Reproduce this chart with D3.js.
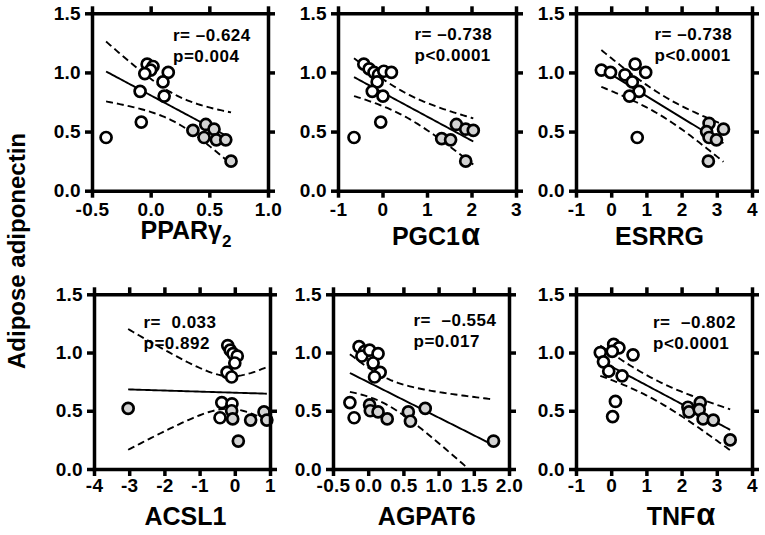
<!DOCTYPE html>
<html><head><meta charset="utf-8">
<script src="https://cdn.jsdelivr.net/npm/d3@7"></script>
<style>
body{margin:0;background:#fff}
svg text{font-family:"Liberation Sans",Arial,Helvetica,sans-serif;font-weight:700;fill:#000}
</style>
</head><body>
<svg id="chart" width="765" height="535"></svg>
<script>
// ---------- data ----------
const yTitle = "Adipose adiponectin";
const geneNames = ["PPARγ", "PGC1", "ESRRG", "ACSL1", "AGPAT6", "TNF"];
const geneSuffix = ["2", "α", "", "", "", "α"];   // subscript 2 / greek alpha
const statR = ["r= \u20130.624", "r= \u20130.738", "r= \u20130.738", "r=  0.033", "r=  \u20130.554", "r=  \u20130.802"];
const statP = ["p=0.004", "p<0.0001", "p<0.0001", "p=0.892", "p=0.017", "p<0.0001"];
const yTicks = [0, 0.5, 1.0, 1.5];
const xDomains = [[-0.5, 1.0], [-1, 3], [-1, 4], [-4, 1], [-0.5, 2.0], [-1, 4]];
const xTicks = [[-0.5, 0.0, 0.5, 1.0], [-1, 0, 1, 2, 3], [-1, 0, 1, 2, 3, 4], [-4, -3, -2, -1, 0, 1], [-0.5, 0.0, 0.5, 1.0, 1.5, 2.0], [-1, 0, 1, 2, 3, 4]];

// open circles / gray circles: [x, adiponectin]
const ppargOpen = [[-0.03,1.07],[0.02,1.05],[0.0,1.02],[-0.05,0.99],[0.15,1.00],[0.105,0.92],[-0.09,0.84],[0.115,0.80],[-0.08,0.58],[-0.38,0.45]];
const ppargGray = [[0.36,0.51],[0.47,0.56],[0.455,0.45],[0.54,0.52],[0.56,0.43],[0.64,0.43],[0.685,0.25]];
const pgcOpen = [[-0.42,1.07],[-0.30,1.03],[-0.19,1.00],[-0.09,0.98],[0.03,1.01],[0.20,1.00],[-0.12,0.92],[-0.23,0.84],[0.01,0.80],[-0.04,0.58],[-0.64,0.45]];
const pgcGray = [[1.66,0.56],[1.87,0.52],[2.04,0.51],[1.33,0.44],[1.53,0.43],[1.87,0.25]];
const esrrgOpen = [[-0.28,1.02],[-0.02,1.00],[0.39,0.98],[0.68,1.07],[0.60,0.92],[0.98,1.00],[0.79,0.84],[0.52,0.80],[0.74,0.45]];
const esrrgGray = [[2.78,0.57],[2.71,0.50],[3.19,0.52],[2.78,0.45],[2.99,0.43],[2.76,0.25]];
const acslOpen = [[-0.20,1.06],[-0.13,1.02],[-0.05,0.99],[0.07,0.97],[0.0,0.91],[-0.22,0.83],[-0.09,0.79],[-0.37,0.57],[-0.42,0.44],[-0.08,0.56]];
const acslGray = [[-3.03,0.52],[-0.09,0.50],[-0.06,0.43],[0.10,0.24],[0.45,0.42],[0.83,0.49],[0.91,0.42]];
const agpatOpen = [[-0.13,1.05],[-0.05,1.01],[-0.09,0.97],[0.02,1.02],[0.14,0.99],[0.07,0.91],[0.17,0.83],[0.09,0.79],[-0.26,0.57],[-0.20,0.44]];
const agpatGray = [[0.02,0.55],[0.03,0.50],[0.14,0.49],[0.27,0.43],[0.57,0.49],[0.60,0.41],[0.81,0.52],[1.78,0.24]];
const tnfOpen = [[0.07,1.07],[0.22,1.04],[-0.31,1.00],[0.03,1.01],[0.62,0.98],[-0.22,0.92],[-0.07,0.84],[0.31,0.80],[0.12,0.58],[0.04,0.45]];
const tnfGray = [[2.18,0.53],[2.21,0.49],[2.53,0.57],[2.50,0.51],[2.61,0.43],[2.90,0.42],[3.38,0.25]];

const openSets = [ppargOpen, pgcOpen, esrrgOpen, acslOpen, agpatOpen, tnfOpen];
const graySets = [ppargGray, pgcGray, esrrgGray, acslGray, agpatGray, tnfGray];

// ---------- layout ----------
const boxes = [
  {l: 92, r: 268, t: 13.3, b: 190.7, tx: 186, ty: 239, sx: 173, sy: 40.7, lp: 5},
  {l: 338, r: 516, t: 13.3, b: 190.7, tx: 436, ty: 245, sx: 414.5, sy: 40.3, lp: 5},
  {l: 576, r: 752, t: 13.3, b: 190.7, tx: 659.5, ty: 245, sx: 654.5, sy: 40.3, lp: 5},
  {l: 94, r: 270, t: 294.3, b: 469, tx: 185.5, ty: 524.5, sx: 143.5, sy: 327.5, lp: 3},
  {l: 333, r: 509, t: 294.3, b: 469, tx: 426.7, ty: 525, sx: 413.5, sy: 326.3, lp: 3},
  {l: 576, r: 752, t: 294.3, b: 469, tx: 681, ty: 524.5, sx: 653, sy: 327.5, lp: 3}
];

const svg = d3.select("#chart");

function tCrit(df) {
  const z = 1.959964;
  return z + (z**3 + z) / (4*df) + (5*z**5 + 16*z**3 + 3*z) / (96*df*df) + (3*z**7 + 19*z**5 + 17*z**3 - 15*z) / (384*df**3);
}
function fit(pts) {
  const n = pts.length;
  const mx = d3.mean(pts, d => d[0]), my = d3.mean(pts, d => d[1]);
  const sxx = d3.sum(pts, d => (d[0]-mx)**2);
  const sxy = d3.sum(pts, d => (d[0]-mx)*(d[1]-my));
  const b = sxy / sxx, a = my - b*mx;
  const s = Math.sqrt(d3.sum(pts, d => (d[1] - a - b*d[0])**2) / (n-2));
  return {n, mx, sxx, a, b, s, t: tCrit(n-2)};
}
const fmtNum = (dec) => d => (dec ? d3.format(".1f")(d) : d3.format("d")(d)).replace("\u2212", "-");

boxes.forEach((bx, i) => {
  const w = bx.r - bx.l, h = bx.b - bx.t;
  const g = svg.append("g").attr("transform", `translate(${bx.l},${bx.t})`);
  const x = d3.scaleLinear().domain(xDomains[i]).range([0, w]);
  const y = d3.scaleLinear().domain([0, 1.5]).range([h, 0]);
  const dec = xTicks[i].some(v => v % 1 !== 0);

  const clipId = "clip" + i;
  g.append("clipPath").attr("id", clipId).append("rect").attr("width", w).attr("height", h);

  // regression + 95% CI
  const pts = openSets[i].concat(graySets[i]);
  const f = fit(pts);
  const [x0, x1] = d3.extent(pts, d => d[0]);
  const xs = d3.range(0, 61).map(k => x0 + (x1 - x0) * k / 60);
  const half = xv => f.t * f.s * Math.sqrt(1/f.n + (xv - f.mx)**2 / f.sxx);
  const line = d3.line().x(d => x(d[0])).y(d => y(d[1]));
  const lg = g.append("g").attr("clip-path", `url(#${clipId})`).attr("fill", "none").attr("stroke", "#000");
  lg.append("path").attr("d", line(xs.map(v => [v, f.a + f.b*v]))).attr("stroke-width", 1.9);
  [1, -1].forEach(sg => {
    lg.append("path").attr("d", line(xs.map(v => [v, f.a + f.b*v + sg*half(v)])))
      .attr("stroke-width", 1.9).attr("stroke-dasharray", "7,4");
  });

  // points
  g.append("g").selectAll("circle").data(openSets[i]).join("circle")
    .attr("cx", d => x(d[0])).attr("cy", d => y(d[1])).attr("r", 5.5)
    .attr("fill", "#fff").attr("stroke", "#000").attr("stroke-width", 2.7);
  g.append("g").selectAll("circle").data(graySets[i]).join("circle")
    .attr("cx", d => x(d[0])).attr("cy", d => y(d[1])).attr("r", 5.5)
    .attr("fill", "#d3d3d3").attr("stroke", "#000").attr("stroke-width", 2.7);

  // axes / frame
  const styleAxis = sel => {
    sel.selectAll(".domain").attr("stroke-width", 3.5).attr("stroke-linecap", "square");
    sel.selectAll(".tick line").attr("stroke-width", 3.5);
    sel.selectAll("text").style("font-size", "19px").style("letter-spacing", "0.3px")
      .style("font-family", "'Liberation Sans', Arial, sans-serif").style("font-weight", "700");
  };
  g.append("g").attr("transform", `translate(0,${h})`)
    .call(d3.axisBottom(x).tickValues(xTicks[i]).tickSize(7).tickSizeOuter(0).tickPadding(bx.lp).tickFormat(fmtNum(dec)))
    .call(styleAxis);
  g.append("g")
    .call(d3.axisTop(x).tickValues(xTicks[i]).tickSize(7).tickSizeOuter(0).tickFormat(""))
    .call(styleAxis);
  g.append("g")
    .call(d3.axisLeft(y).tickValues(yTicks).tickSize(7).tickSizeOuter(0).tickPadding(4).tickFormat(fmtNum(true)))
    .call(styleAxis);
  g.append("g").attr("transform", `translate(${w},0)`)
    .call(d3.axisRight(y).tickValues(yTicks).tickSize(7).tickSizeOuter(0).tickFormat(""))
    .call(styleAxis);

  // stats text
  svg.append("text").attr("x", bx.sx).attr("y", bx.sy).style("font-size", "17px")
    .style("letter-spacing", "0.5px").style("white-space", "pre").text(statR[i]);
  svg.append("text").attr("x", bx.sx).attr("y", bx.sy + 21).style("font-size", "17px")
    .style("letter-spacing", "0.5px").style("white-space", "pre").text(statP[i]);

  // x title
  const tt = svg.append("text").attr("x", bx.tx).attr("y", bx.ty).attr("text-anchor", "middle").style("font-size", "25px");
  tt.append("tspan").text(geneNames[i]);
  if (geneSuffix[i] === "2") {
    tt.append("tspan").style("font-size", "17px").attr("dy", 8).text(geneSuffix[i]);
  } else if (geneSuffix[i] === "α") {
    tt.append("tspan").style("font-size", "31px").attr("dx", 1).text(geneSuffix[i]);
  }
});

// y title
svg.append("text").attr("transform", "translate(25,251) rotate(-90)")
  .attr("text-anchor", "middle").style("font-size", "24px").text(yTitle);
</script>
</body></html>
